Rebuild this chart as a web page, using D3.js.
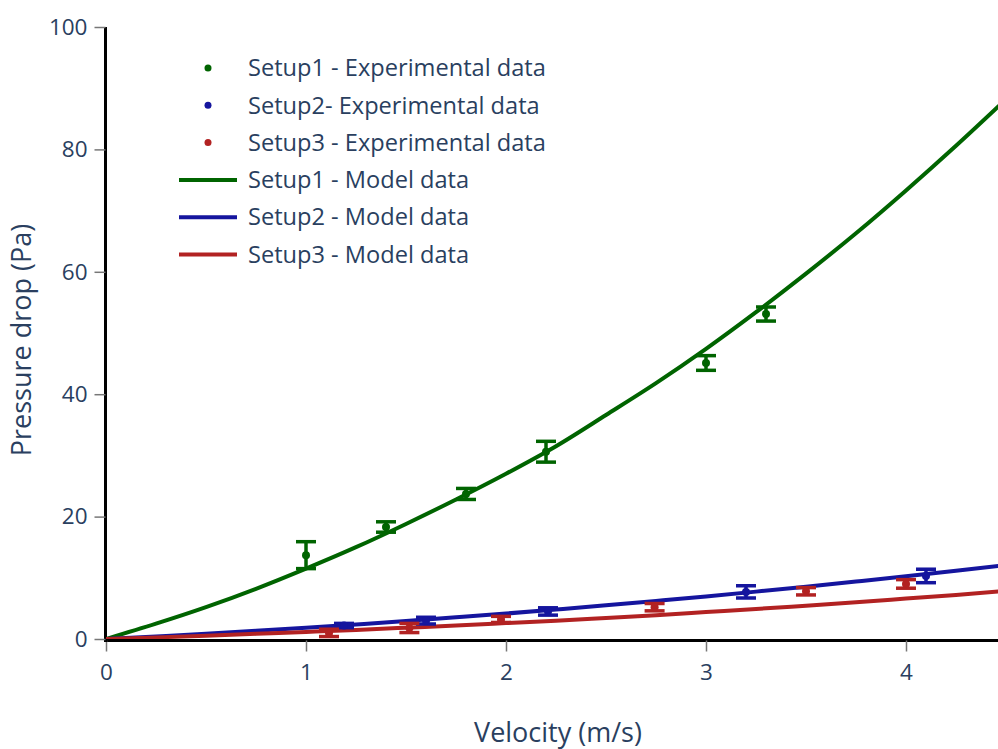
<!DOCTYPE html>
<html>
<head>
<meta charset="utf-8">
<script src="https://cdn.jsdelivr.net/npm/d3@7/dist/d3.min.js"></script>
<style>
  html, body { margin: 0; padding: 0; background: #fff; }
  svg text { font-family: "Open Sans", verdana, arial, sans-serif; fill: #2a3f5f; }
</style>
</head>
<body>
<svg id="chart" width="998" height="749"></svg>
<script>
// Experimental measurements: velocity (m/s), pressure drop (Pa), half error bar (Pa)
const setup1Velocity = [1.0, 1.4, 1.8, 2.2, 3.0, 3.3];
const setup1Pressure = [13.7, 18.3, 23.7, 30.6, 45.1, 53.1];
const setup1Error    = [2.2, 0.85, 0.9, 1.7, 1.2, 1.15];

const setup2Velocity = [1.19, 1.6, 2.21, 3.2, 4.1];
const setup2Pressure = [2.2, 3.0, 4.5, 7.7, 10.3];
const setup2Error    = [0.35, 0.55, 0.6, 1.0, 1.1];

const setup3Velocity = [1.115, 1.517, 1.975, 2.743, 3.5, 4.0];
const setup3Pressure = [1.0, 1.8, 3.2, 5.2, 7.8, 9.0];
const setup3Error    = [0.6, 0.75, 0.5, 0.6, 0.6, 0.7];

// Model predictions sampled along the velocity axis
const modelVelocity = [0, 0.25, 0.5, 0.75, 1, 1.25, 1.5, 1.75, 2, 2.25, 2.5, 2.75, 3, 3.25, 3.5, 3.75, 4, 4.25, 4.5];
const setup1Model = [0, 2.5, 5.2, 8.2, 11.5, 15.0, 18.8, 22.8, 27.0, 31.5, 36.6, 41.8, 47.4, 53.4, 59.7, 66.3, 73.3, 80.6, 88.2];
const setup2Model = [0, 0.42, 0.86, 1.34, 1.84, 2.38, 2.94, 3.54, 4.16, 4.82, 5.5, 6.22, 6.96, 7.74, 8.54, 9.38, 10.24, 11.14, 12.06];
const setup3Model = [0, 0.26, 0.54, 0.84, 1.15, 1.48, 1.84, 2.2, 2.6, 3.0, 3.45, 3.9, 4.4, 4.9, 5.45, 6.0, 6.6, 7.2, 7.85];

const xTicks = [0, 1, 2, 3, 4];
const yTicks = [0, 20, 40, 60, 80, 100];

const legendLabels = [
  "Setup1 - Experimental data",
  "Setup2- Experimental data",
  "Setup3 - Experimental data",
  "Setup1 - Model data",
  "Setup2 - Model data",
  "Setup3 - Model data"
];

const GREEN = "#006400", BLUE = "#15159e", RED = "#b22222";

const svg = d3.select("#chart");
const margin = { left: 106, top: 27, right: 0, bottom: 110 };
const plotW = 900, plotH = 612;

const x = d3.scaleLinear().domain([0, 4.5]).range([margin.left, margin.left + plotW]);
const y = d3.scaleLinear().domain([0, 100]).range([margin.top + plotH, margin.top]);

svg.append("rect").attr("width", 998).attr("height", 749).attr("fill", "#fff");

svg.append("defs").append("clipPath").attr("id", "plot-clip")
  .append("rect")
  .attr("x", margin.left).attr("y", margin.top - 20)
  .attr("width", plotW).attr("height", plotH + 20);

// Axes
const xAxis = svg.append("g")
  .attr("transform", `translate(0,${y(0) + 1.5})`)
  .call(d3.axisBottom(x).tickValues(xTicks).tickSize(11).tickPadding(13).tickFormat(d3.format("d")));
const yAxis = svg.append("g")
  .attr("transform", `translate(${margin.left - 0.5},0)`)
  .call(d3.axisLeft(y).tickValues(yTicks).tickSize(11).tickPadding(7).tickFormat(d3.format("d")));

[xAxis, yAxis].forEach(g => {
  g.select(".domain").attr("stroke", "#000").attr("stroke-width", 3);
  g.selectAll(".tick line").attr("stroke", "#777").attr("stroke-width", 1.5);
  g.selectAll(".tick text").attr("fill", "#2a3f5f").style("font-size", "22.5px")
    .style("font-family", '"Open Sans", verdana, arial, sans-serif');
});
xAxis.select(".domain").attr("d", `M${margin.left - 2},0H998`);
yAxis.select(".domain").attr("d", `M0,${y(100)}V${y(0) + 3}`);

// Axis titles
svg.append("text")
  .attr("x", margin.left + plotW / 2 + 2).attr("y", 742)
  .attr("text-anchor", "middle").style("font-size", "27px")
  .text("Velocity (m/s)");
svg.append("text")
  .attr("transform", `translate(31,${margin.top + plotH / 2 + 7}) rotate(-90)`)
  .attr("text-anchor", "middle").style("font-size", "27px")
  .text("Pressure drop (Pa)");

const plot = svg.append("g").attr("clip-path", "url(#plot-clip)");

// Model curves
const line = d3.line().x(d => x(d[0])).y(d => y(d[1])).curve(d3.curveMonotoneX);
[[setup1Model, GREEN], [setup2Model, BLUE], [setup3Model, RED]].forEach(([vals, color]) => {
  plot.append("path")
    .datum(modelVelocity.map((v, i) => [v, vals[i]]))
    .attr("fill", "none").attr("stroke", color).attr("stroke-width", 4)
    .attr("d", line);
});

// Experimental points with error bars
function drawExperimental(vx, vy, ve, color) {
  const data = vx.map((v, i) => ({ v, p: vy[i], e: ve[i] }));
  const g = plot.append("g");
  const cap = 10;
  const bars = g.selectAll("g.err").data(data).join("g").attr("class", "err")
    .attr("stroke", color).attr("stroke-width", 3.5);
  bars.append("line")
    .attr("x1", d => x(d.v)).attr("x2", d => x(d.v))
    .attr("y1", d => y(d.p + d.e)).attr("y2", d => y(d.p - d.e));
  bars.append("line")
    .attr("x1", d => x(d.v) - cap).attr("x2", d => x(d.v) + cap)
    .attr("y1", d => y(d.p + d.e)).attr("y2", d => y(d.p + d.e));
  bars.append("line")
    .attr("x1", d => x(d.v) - cap).attr("x2", d => x(d.v) + cap)
    .attr("y1", d => y(d.p - d.e)).attr("y2", d => y(d.p - d.e));
  g.selectAll("circle").data(data).join("circle")
    .attr("cx", d => x(d.v)).attr("cy", d => y(d.p)).attr("r", 4)
    .attr("fill", color);
}
drawExperimental(setup1Velocity, setup1Pressure, setup1Error, GREEN);
drawExperimental(setup2Velocity, setup2Pressure, setup2Error, BLUE);
drawExperimental(setup3Velocity, setup3Pressure, setup3Error, RED);

// Legend
const legendColors = [GREEN, BLUE, RED, GREEN, BLUE, RED];
const legend = svg.append("g");
legendLabels.forEach((label, i) => {
  const ly = 68 + i * 37.3;
  if (i < 3) {
    legend.append("circle").attr("cx", 208).attr("cy", ly).attr("r", 3.5).attr("fill", legendColors[i]);
  } else {
    legend.append("line").attr("x1", 179).attr("x2", 237).attr("y1", ly).attr("y2", ly)
      .attr("stroke", legendColors[i]).attr("stroke-width", 4);
  }
  legend.append("text").attr("x", 248).attr("y", ly).attr("dy", "0.35em")
    .style("font-size", "23.6px").text(label);
});
</script>
</body>
</html>
